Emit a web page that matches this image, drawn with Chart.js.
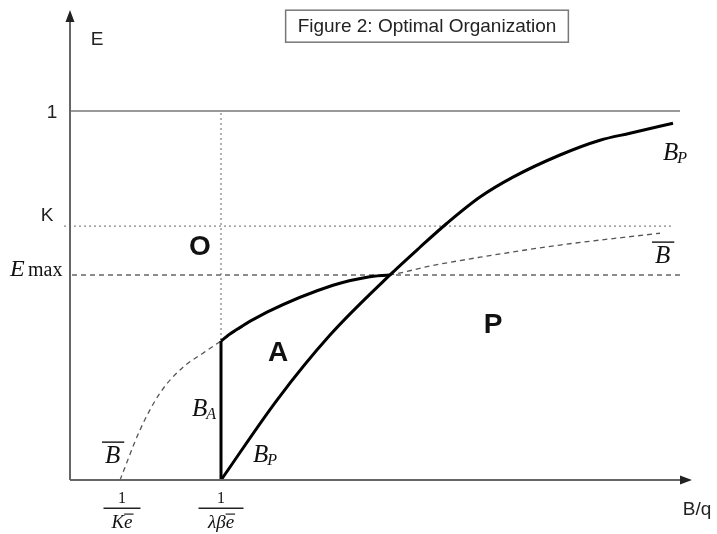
<!DOCTYPE html>
<html>
<head>
<meta charset="utf-8">
<script src="https://cdn.jsdelivr.net/npm/chart.js@4.4.0/dist/chart.umd.min.js"></script>
<style>
body{margin:0;background:#fff;}
#wrap{width:717px;height:534px;position:relative;}
</style>
</head>
<body>
<div id="wrap"><canvas id="fig"></canvas></div>
<script>
// levels on the E axis, thresholds on the B/q axis
var E_ONE = 1;
var K_LEVEL = 0.688;
var E_MAX = 0.556;
var X_KE = 0.50;    // 1/(K e)
var X_LBE = 1.51;   // 1/(lambda beta e)

// B-bar curve (dashed)
var bbarX = [0.50, 0.70, 0.90, 1.13, 1.33, 1.51, 1.97, 2.63, 2.97, 3.20, 3.60, 4.10, 4.90, 5.90];
var bbarY = [0, 0.136, 0.236, 0.306, 0.344, 0.377, 0.455, 0.528, 0.550, 0.556, 0.580, 0.604, 0.637, 0.669];
// upper boundary of region A (solid, on top of B-bar)
var upperX = [1.51, 1.62, 1.97, 2.63, 2.97, 3.20];
var upperY = [0.377, 0.400, 0.455, 0.528, 0.550, 0.556];
// B_P curve
var bpX = [1.51, 2.07, 2.60, 3.20, 3.50, 3.77, 4.10, 4.43, 4.90, 5.30, 5.60, 6.03];
var bpY = [0, 0.217, 0.393, 0.556, 0.631, 0.696, 0.767, 0.821, 0.881, 0.921, 0.940, 0.967];

function pts(xs, ys) {
    return xs.map(function(x, i) { return {x: x, y: ys[i]}; });
}

var SERIF = '"Liberation Serif", "DejaVu Serif", serif';
var SANS = '"Liberation Sans", Arial, sans-serif';

// everything that is not a data line: axes, arrows, labels, title box
var figureText = {
    id: 'figureText',
    afterDraw: function(chart) {
        var ctx = chart.ctx;
        var sx = chart.scales.x, sy = chart.scales.y;
        function X(v) { return sx.getPixelForValue(v); }
        function Y(v) { return sy.getPixelForValue(v); }
        ctx.save();

        // axes with arrows
        ctx.strokeStyle = '#666';
        ctx.fillStyle = '#222';
        ctx.lineWidth = 2;
        ctx.beginPath();
        ctx.moveTo(X(0), Y(0));
        ctx.lineTo(X(0), Y(1.255));
        ctx.moveTo(X(0), Y(0));
        ctx.lineTo(X(6.15), Y(0));
        ctx.stroke();
        ctx.beginPath();
        ctx.moveTo(X(0), Y(1.274));
        ctx.lineTo(X(0) - 4.5, Y(1.274) + 12);
        ctx.lineTo(X(0) + 4.5, Y(1.274) + 12);
        ctx.closePath();
        ctx.moveTo(X(6.22), Y(0));
        ctx.lineTo(X(6.22) - 12, Y(0) - 4.5);
        ctx.lineTo(X(6.22) - 12, Y(0) + 4.5);
        ctx.closePath();
        ctx.fill();

        // plain sans labels
        ctx.fillStyle = '#222';
        ctx.textAlign = 'center';
        ctx.textBaseline = 'alphabetic';
        ctx.font = '19px ' + SANS;
        ctx.fillText('E', X(0.27), Y(1.179));
        ctx.fillText('1', X(-0.18), Y(0.981));
        ctx.fillText('K', X(-0.23), Y(0.702));
        ctx.fillText('B/q', X(6.27), Y(-0.095));

        // region letters
        ctx.fillStyle = '#111';
        ctx.textBaseline = 'middle';
        ctx.font = 'bold 28px ' + SANS;
        ctx.fillText('O', X(1.30), Y(0.631));
        ctx.fillText('A', X(2.08), Y(0.344));
        ctx.fillText('P', X(4.23), Y(0.420));

        // E_max
        ctx.textAlign = 'left';
        ctx.textBaseline = 'alphabetic';
        ctx.font = 'italic 24px ' + SERIF;
        ctx.fillText('E', X(-0.60), Y(0.553));
        ctx.font = '20px ' + SERIF;
        ctx.fillText('max', X(-0.42), Y(0.553));

        // curve names: B with subscript or overline
        function curveName(xv, yv, sub, bar) {
            var x = X(xv), y = Y(yv);
            ctx.font = 'italic 25px ' + SERIF;
            ctx.fillText('B', x, y);
            var w = ctx.measureText('B').width;
            if (sub) {
                ctx.font = 'italic 16px ' + SERIF;
                ctx.fillText(sub, x + w - 1, y + 3);
            }
            if (bar) {
                ctx.strokeStyle = '#222';
                ctx.lineWidth = 1.5;
                ctx.beginPath();
                ctx.moveTo(x - 3, y - 21);
                ctx.lineTo(x + w + 4, y - 21);
                ctx.stroke();
            }
        }
        curveName(1.22, 0.173, 'A', false);
        curveName(0.35, 0.046, null, true);
        curveName(1.83, 0.049, 'P', false);
        curveName(5.93, 0.867, 'P', false);
        curveName(5.85, 0.588, null, true);

        // fraction tick labels on the B/q axis
        function fraction(xv, head, tail, barW) {
            var cx = X(xv);
            ctx.textAlign = 'center';
            ctx.font = '16px ' + SERIF;
            ctx.fillText('1', cx, Y(-0.062));
            ctx.strokeStyle = '#222';
            ctx.lineWidth = 1.5;
            ctx.beginPath();
            ctx.moveTo(cx - barW / 2, Y(-0.076));
            ctx.lineTo(cx + barW / 2, Y(-0.076));
            ctx.stroke();
            ctx.font = 'italic 19px ' + SERIF;
            var wh = ctx.measureText(head).width, wt = ctx.measureText(tail).width;
            var left = cx - (wh + wt) / 2;
            ctx.textAlign = 'left';
            ctx.fillText(head, left, Y(-0.130));
            ctx.fillText(tail, left + wh, Y(-0.130));
            ctx.lineWidth = 1.2;
            ctx.beginPath();
            ctx.moveTo(left + wh, Y(-0.130) - 14);
            ctx.lineTo(left + wh + wt + 1, Y(-0.130) - 14);
            ctx.stroke();
        }
        fraction(X_KE + 0.02, 'K', 'e', 37);
        fraction(X_LBE, '\u03bb\u03b2', 'e', 45);

        // title box
        var title = 'Figure 2: Optimal Organization';
        ctx.font = '19px ' + SANS;
        ctx.textAlign = 'center';
        ctx.textBaseline = 'middle';
        var tw = ctx.measureText(title).width;
        var tx = X(3.57), ty = Y(1.230);
        ctx.fillStyle = '#222';
        ctx.fillText(title, tx, ty + 1);
        ctx.strokeStyle = '#777';
        ctx.lineWidth = 1.5;
        ctx.strokeRect(tx - tw / 2 - 12, ty - 16, tw + 24, 32);

        ctx.restore();
    }
};

var lineBase = {showLine: true, pointRadius: 0, fill: false};

new Chart(document.getElementById('fig'), {
    type: 'scatter',
    data: {
        datasets: [
            Object.assign({}, lineBase, {
                label: 'B_A', data: pts([X_LBE, X_LBE], [0, upperY[0]]),
                borderColor: '#000', borderWidth: 3
            }),
            Object.assign({}, lineBase, {
                label: 'A boundary', data: pts(upperX, upperY),
                borderColor: '#000', borderWidth: 3, cubicInterpolationMode: 'monotone'
            }),
            Object.assign({}, lineBase, {
                label: 'B_P', data: pts(bpX, bpY),
                borderColor: '#000', borderWidth: 3, cubicInterpolationMode: 'monotone'
            }),
            Object.assign({}, lineBase, {
                label: 'B bar', data: pts(bbarX, bbarY),
                borderColor: '#555', borderWidth: 1.3, borderDash: [5, 4],
                cubicInterpolationMode: 'monotone'
            }),
            Object.assign({}, lineBase, {
                label: 'E = 1', data: pts([0, 6.10], [E_ONE, E_ONE]),
                borderColor: '#999', borderWidth: 2
            }),
            Object.assign({}, lineBase, {
                label: 'K', data: pts([-0.06, 6.03], [K_LEVEL, K_LEVEL]),
                borderColor: '#888', borderWidth: 1.3, borderDash: [2, 3]
            }),
            Object.assign({}, lineBase, {
                label: 'E max', data: pts([0.02, 6.10], [E_MAX, E_MAX]),
                borderColor: '#666', borderWidth: 1.4, borderDash: [5, 4]
            }),
            Object.assign({}, lineBase, {
                label: 'threshold', data: pts([X_LBE, X_LBE], [0, E_ONE]),
                borderColor: '#888', borderWidth: 1.3, borderDash: [2, 3]
            })
        ]
    },
    options: {
        responsive: true,
        maintainAspectRatio: false,
        animation: false,
        layout: {padding: 0},
        plugins: {legend: {display: false}, tooltip: {enabled: false}, title: {display: false}},
        scales: {
            x: {type: 'linear', min: -0.70, max: 6.47, display: false},
            y: {type: 'linear', min: -0.146, max: 1.301, display: false}
        }
    },
    plugins: [figureText]
});
</script>
</body>
</html>
